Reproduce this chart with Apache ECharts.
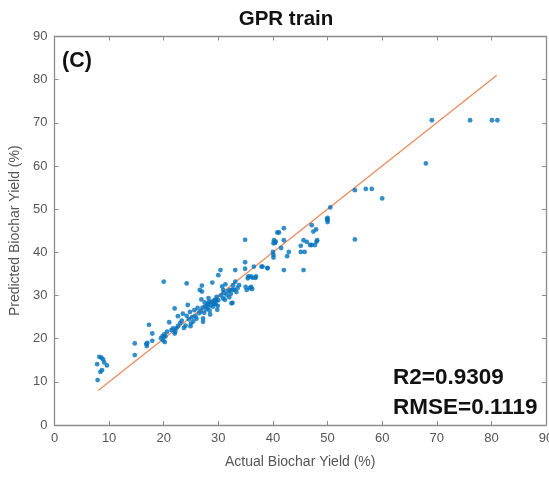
<!DOCTYPE html>
<html>
<head>
<meta charset="utf-8">
<script src="https://cdn.jsdelivr.net/npm/echarts@6/dist/echarts.min.js"></script>
<style>html,body{margin:0;padding:0;background:#fff}#c{width:549px;height:477px}</style>
</head>
<body>
<div id="c"></div>
<script>
// Actual biochar yield (%) and GPR predicted yield (%)
const actual = [
  7.9,7.8,8.2,8.9,9.1,9.6,8.7,8.4,8.6,
  14.7,14.7,16.8,16.9,17.0,17.3,17.9,17.9,
  20.0,19.5,19.8,20.1,20.3,19.9,20.2,20.6,21.0,21.4,21.7,22.0,22.1,22.3,22.6,22.6,22.0,
  23.0,23.3,23.7,24.0,24.2,24.4,24.2,24.6,24.8,25.0,25.2,25.4,25.6,25.8,26.0,23.5,24.9,26.2,
  27.0,27.0,26.6,27.2,27.2,26.5,26.8,27.1,27.4,27.6,27.8,28.0,28.1,28.3,28.4,28.6,28.8,28.9,29.0,29.2,29.3,29.5,29.6,29.7,29.9,30.0,27.5,26.9,28.5,29.8,28.2,
  30.0,30.4,30.9,30.9,31.2,30.5,31.0,31.5,31.8,32.0,32.1,32.3,32.6,32.6,32.9,33.1,33.1,33.3,33.5,33.8,32.7,32.4,31.3,30.7,
  34.9,34.9,34.9,35.0,35.2,35.5,35.8,36.0,36.0,36.3,36.5,36.8,36.9,35.4,36.2,
  37.9,38.1,39.0,39.0,40.0,40.1,40.1,40.1,40.4,40.8,41.1,42.0,42.0,42.0,40.2,40.5,41.5,
  42.9,42.6,45.1,45.6,47.4,45.8,45.1,46.8,47.1,47.7,48.0,48.1,45.6,47.9,47.1,46.2,
  50.5,50.0,50.0,50.0,49.9,
  55.0,57.0,58.1,60.0,55.0,
  69.1,76.1,80.1,81.1,68.0
];
const predicted = [
  10.4,14.1,15.8,15.2,14.5,13.8,12.7,12.3,15.6,
  18.9,16.2,18.8,18.3,19.0,23.2,21.2,19.5,
  33.2,20.1,20.6,21.0,20.5,19.6,19.2,21.6,23.8,22.0,22.4,27.0,21.6,22.4,22.9,25.2,21.2,
  23.6,24.2,22.5,23.0,32.8,27.8,25.3,24.5,26.2,23.5,25.0,24.0,26.6,25.2,24.6,25.8,22.9,27.1,
  32.3,30.9,31.3,24.7,23.9,25.9,26.4,27.2,26.0,27.5,26.8,28.0,27.3,28.5,26.5,27.8,28.6,33.0,27.4,28.2,29.0,28.0,28.8,29.7,27.6,28.9,28.4,29.1,25.6,26.7,29.4,
  34.7,35.9,31.3,29.3,29.0,30.0,30.6,30.2,31.0,29.6,31.3,30.4,31.4,28.3,31.3,35.9,33.2,30.8,31.7,32.4,32.4,28.2,32.6,32.1,
  42.9,37.7,36.2,32.0,31.3,34.4,31.7,34.4,32.0,34.1,36.7,34.1,34.4,34.0,31.5,
  36.7,36.7,36.4,36.3,40.1,39.4,38.8,42.1,42.2,44.6,44.6,42.8,45.6,35.9,42.8,42.5,41.0,
  40.1,39.1,41.5,42.8,44.8,40.1,40.1,41.7,41.7,41.7,42.5,42.8,35.9,45.3,46.3,42.4,
  50.4,48.0,47.5,47.0,47.7,
  54.4,54.7,54.7,52.5,43.0,
  70.6,70.6,70.6,70.6,60.6
];
// Reference line y = x across the range of actual values
const lineX = [8, 81];
const lineY = [8, 81];
const xTicks = [0, 10, 20, 30, 40, 50, 60, 70, 80, 90];
const yTicks = [0, 10, 20, 30, 40, 50, 60, 70, 80, 90];
const titleText = 'GPR train';
const panelText = '(C)';
const statR2 = 'R2=0.9309';
const statRMSE = 'RMSE=0.1119';
const xName = 'Actual Biochar Yield (%)';
const yName = 'Predicted Biochar Yield (%)';

const points = actual.map((a, i) => [a, predicted[i]]);
const linePts = lineX.map((x, i) => [x, lineY[i]]);

const FONT = '"Liberation Sans", Arial, sans-serif';
const axisColor = '#8c8c8c';
const labelColor = '#555555';

const chart = echarts.init(document.getElementById('c'), null, {renderer: 'canvas'});
const baseAxis = {
  min: xTicks[0], max: xTicks[xTicks.length - 1], interval: 10,
  axisLine: {show: true, onZero: false, lineStyle: {color: axisColor, width: 1.3}},
  axisTick: {show: true, inside: true, length: 4, lineStyle: {color: axisColor, width: 1}},
  splitLine: {show: false}
};
chart.setOption({
  animation: false,
  backgroundColor: '#ffffff',
  grid: {left: 54.5, right: 3, top: 36.5, bottom: 52, containLabel: false, outerBoundsMode: 'none'},
  xAxis: [
    Object.assign({}, baseAxis, {
      type: 'value', position: 'bottom',
      name: xName, nameLocation: 'middle', nameGap: 30,
      nameTextStyle: {fontFamily: FONT, fontSize: 14, color: labelColor},
      axisLabel: {show: true, margin: 7, fontFamily: FONT, fontSize: 13, color: labelColor}
    }),
    Object.assign({}, baseAxis, {type: 'value', position: 'top', axisLabel: {show: false}})
  ],
  yAxis: [
    Object.assign({}, baseAxis, {
      type: 'value', position: 'left',
      min: yTicks[0], max: yTicks[yTicks.length - 1],
      name: yName, nameLocation: 'middle', nameGap: 28,
      nameTextStyle: {fontFamily: FONT, fontSize: 14, color: labelColor},
      axisLabel: {show: true, margin: 7, fontFamily: FONT, fontSize: 13, color: labelColor}
    }),
    Object.assign({}, baseAxis, {type: 'value', position: 'right',
      min: yTicks[0], max: yTicks[yTicks.length - 1], axisLabel: {show: false}})
  ],
  series: [
    {
      type: 'scatter', data: points, symbol: 'circle', symbolSize: 4.8,
      itemStyle: {color: '#0072BD'}, z: 3
    },
    {
      type: 'line', data: linePts, symbol: 'none', smooth: false,
      lineStyle: {color: '#EC8A5C', width: 1.3}, z: 2
    }
  ],
  graphic: [
    {type: 'text', x: 286, y: 9, style: {text: titleText, fontFamily: FONT, fontWeight: 'bold', fontSize: 20.5, fill: '#111', textAlign: 'center'}},
    {type: 'text', x: 62, y: 50, style: {text: panelText, fontFamily: FONT, fontWeight: 'bold', fontSize: 21.5, fill: '#111'}},
    {type: 'text', x: 393, y: 366, style: {text: statR2, fontFamily: FONT, fontWeight: 'bold', fontSize: 22.5, fill: '#111'}},
    {type: 'text', x: 393, y: 396, style: {text: statRMSE, fontFamily: FONT, fontWeight: 'bold', fontSize: 22.5, fill: '#111'}}
  ]
});
</script>
</body>
</html>
